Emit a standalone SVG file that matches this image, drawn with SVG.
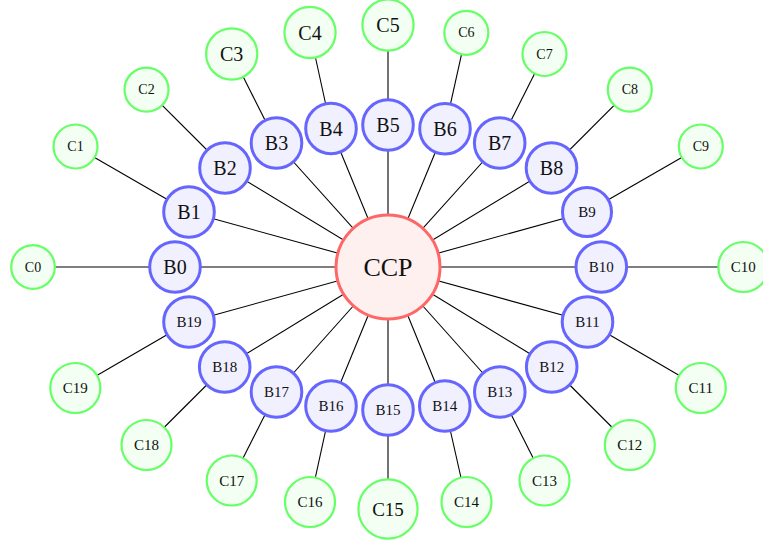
<svg xmlns="http://www.w3.org/2000/svg" width="763" height="547" viewBox="0 0 763 547">
<style>
text{font-family:"Liberation Serif","Times New Roman",serif;fill:#111;text-anchor:middle;dominant-baseline:central}
.b circle{fill:#f0f0ff;stroke:#6666ff;stroke-width:3}
.c circle{fill:#f2fff2;stroke:#66ff66;stroke-width:2.2}
.r circle{fill:#fff0f0;stroke:#ff6666;stroke-width:3}
.bl text{font-size:20px}
.bs text{font-size:15px}
.cs text{font-size:14px}
.cm text{font-size:15px}
.cl text{font-size:20px}
#edges line{stroke:#000;stroke-width:1.1}
</style>
<rect width="763" height="547" fill="#fff"/>
<g id="edges">
<line x1="388" y1="267" x2="175" y2="267"/><line x1="175" y1="267" x2="33" y2="267"/>
<line x1="388" y1="267" x2="189" y2="212"/><line x1="189" y1="212" x2="75.5" y2="146.5"/>
<line x1="388" y1="267" x2="225" y2="168"/><line x1="225" y1="168" x2="146.5" y2="89.7"/>
<line x1="388" y1="267" x2="276.5" y2="143"/><line x1="276.5" y1="143" x2="231.7" y2="54"/>
<line x1="388" y1="267" x2="331" y2="128.5"/><line x1="331" y1="128.5" x2="310" y2="32.5"/>
<line x1="388" y1="267" x2="388" y2="125"/><line x1="388" y1="125" x2="388" y2="25"/>
<line x1="388" y1="267" x2="445" y2="128.7"/><line x1="445" y1="128.7" x2="466.3" y2="32.8"/>
<line x1="388" y1="267" x2="499.7" y2="143"/><line x1="499.7" y1="143" x2="544.5" y2="54"/>
<line x1="388" y1="267" x2="551.5" y2="168"/><line x1="551.5" y1="168" x2="629.8" y2="89.7"/>
<line x1="388" y1="267" x2="587" y2="212"/><line x1="587" y1="212" x2="700.8" y2="146.5"/>
<line x1="388" y1="267" x2="601.3" y2="267"/><line x1="601.3" y1="267" x2="743.3" y2="267"/>
<line x1="388" y1="267" x2="587.5" y2="322"/><line x1="587.5" y1="322" x2="700.8" y2="388"/>
<line x1="388" y1="267" x2="551.7" y2="367"/><line x1="551.7" y1="367" x2="629.8" y2="445"/>
<line x1="388" y1="267" x2="499.8" y2="392"/><line x1="499.8" y1="392" x2="544.5" y2="480.5"/>
<line x1="388" y1="267" x2="444.8" y2="406"/><line x1="444.8" y1="406" x2="466.5" y2="502"/>
<line x1="388" y1="267" x2="388" y2="410"/><line x1="388" y1="410" x2="388" y2="509"/>
<line x1="388" y1="267" x2="331" y2="406"/><line x1="331" y1="406" x2="310" y2="502"/>
<line x1="388" y1="267" x2="276.5" y2="392"/><line x1="276.5" y1="392" x2="231.7" y2="480.5"/>
<line x1="388" y1="267" x2="224.7" y2="367"/><line x1="224.7" y1="367" x2="146.5" y2="445"/>
<line x1="388" y1="267" x2="189" y2="322"/><line x1="189" y1="322" x2="75.3" y2="388"/>
</g>
<g id="CCP" class="r"><circle cx="388" cy="267" r="52"/><text x="388" y="267" style="font-size:26px">CCP</text></g>
<g id="B0" class="b bl"><circle cx="175" cy="267" r="25.3"/><text x="175" y="267">B0</text></g>
<g id="B1" class="b bl"><circle cx="189" cy="212" r="25.3"/><text x="189" y="212">B1</text></g>
<g id="B2" class="b bl"><circle cx="225" cy="168" r="25.3"/><text x="225" y="168">B2</text></g>
<g id="B3" class="b bl"><circle cx="276.5" cy="143" r="25.3"/><text x="276.5" y="143">B3</text></g>
<g id="B4" class="b bl"><circle cx="331" cy="128.5" r="25.3"/><text x="331" y="128.5">B4</text></g>
<g id="B5" class="b bl"><circle cx="388" cy="125" r="25.3"/><text x="388" y="125">B5</text></g>
<g id="B6" class="b bl"><circle cx="445" cy="128.7" r="25.3"/><text x="445" y="128.7">B6</text></g>
<g id="B7" class="b bl"><circle cx="499.7" cy="143" r="25.3"/><text x="499.7" y="143">B7</text></g>
<g id="B8" class="b bl"><circle cx="551.5" cy="168" r="25.3"/><text x="551.5" y="168">B8</text></g>
<g id="B9" class="b bs"><circle cx="587" cy="212" r="24.5"/><text x="587" y="212">B9</text></g>
<g id="B10" class="b bs"><circle cx="601.3" cy="267" r="25.3"/><text x="601.3" y="267">B10</text></g>
<g id="B11" class="b bs"><circle cx="587.5" cy="322" r="25.3"/><text x="587.5" y="322">B11</text></g>
<g id="B12" class="b bs"><circle cx="551.7" cy="367" r="25.3"/><text x="551.7" y="367">B12</text></g>
<g id="B13" class="b bs"><circle cx="499.8" cy="392" r="25.3"/><text x="499.8" y="392">B13</text></g>
<g id="B14" class="b bs"><circle cx="444.8" cy="406" r="25.3"/><text x="444.8" y="406">B14</text></g>
<g id="B15" class="b bs"><circle cx="388" cy="410" r="25.3"/><text x="388" y="410">B15</text></g>
<g id="B16" class="b bs"><circle cx="331" cy="406" r="25.3"/><text x="331" y="406">B16</text></g>
<g id="B17" class="b bs"><circle cx="276.5" cy="392" r="25.3"/><text x="276.5" y="392">B17</text></g>
<g id="B18" class="b bs"><circle cx="224.7" cy="367" r="25.3"/><text x="224.7" y="367">B18</text></g>
<g id="B19" class="b bs"><circle cx="189" cy="322" r="25.3"/><text x="189" y="322">B19</text></g>
<g id="C0" class="c cs"><circle cx="33" cy="267" r="21.8"/><text x="33" y="267">C0</text></g>
<g id="C1" class="c cs"><circle cx="75.5" cy="146.5" r="22"/><text x="75.5" y="146.5">C1</text></g>
<g id="C2" class="c cs"><circle cx="146.5" cy="89.7" r="22"/><text x="146.5" y="89.7">C2</text></g>
<g id="C3" class="c cl"><circle cx="231.7" cy="54" r="25.6"/><text x="231.7" y="54">C3</text></g>
<g id="C4" class="c cl"><circle cx="310" cy="32.5" r="25.6"/><text x="310" y="32.5">C4</text></g>
<g id="C5" class="c cl"><circle cx="388" cy="25" r="25.6"/><text x="388" y="25">C5</text></g>
<g id="C6" class="c cs"><circle cx="466.3" cy="32.8" r="22"/><text x="466.3" y="32.8">C6</text></g>
<g id="C7" class="c cs"><circle cx="544.5" cy="54" r="22"/><text x="544.5" y="54">C7</text></g>
<g id="C8" class="c cs"><circle cx="629.8" cy="89.7" r="22"/><text x="629.8" y="89.7">C8</text></g>
<g id="C9" class="c cs"><circle cx="700.8" cy="146.5" r="22"/><text x="700.8" y="146.5">C9</text></g>
<g id="C10" class="c cm"><circle cx="743.3" cy="267" r="25"/><text x="743.3" y="267">C10</text></g>
<g id="C11" class="c cm"><circle cx="700.8" cy="388" r="25"/><text x="700.8" y="388">C11</text></g>
<g id="C12" class="c cm"><circle cx="629.8" cy="445" r="25"/><text x="629.8" y="445">C12</text></g>
<g id="C13" class="c cm"><circle cx="544.5" cy="480.5" r="25"/><text x="544.5" y="480.5">C13</text></g>
<g id="C14" class="c cm"><circle cx="466.5" cy="502" r="25"/><text x="466.5" y="502">C14</text></g>
<g id="C15" class="c"><circle cx="388" cy="509" r="29.6"/><text x="388" y="509" style="font-size:19px">C15</text></g>
<g id="C16" class="c cm"><circle cx="310" cy="502" r="25"/><text x="310" y="502">C16</text></g>
<g id="C17" class="c cm"><circle cx="231.7" cy="480.5" r="25"/><text x="231.7" y="480.5">C17</text></g>
<g id="C18" class="c cm"><circle cx="146.5" cy="445" r="25"/><text x="146.5" y="445">C18</text></g>
<g id="C19" class="c cm"><circle cx="75.3" cy="388" r="25"/><text x="75.3" y="388">C19</text></g>
</svg>
